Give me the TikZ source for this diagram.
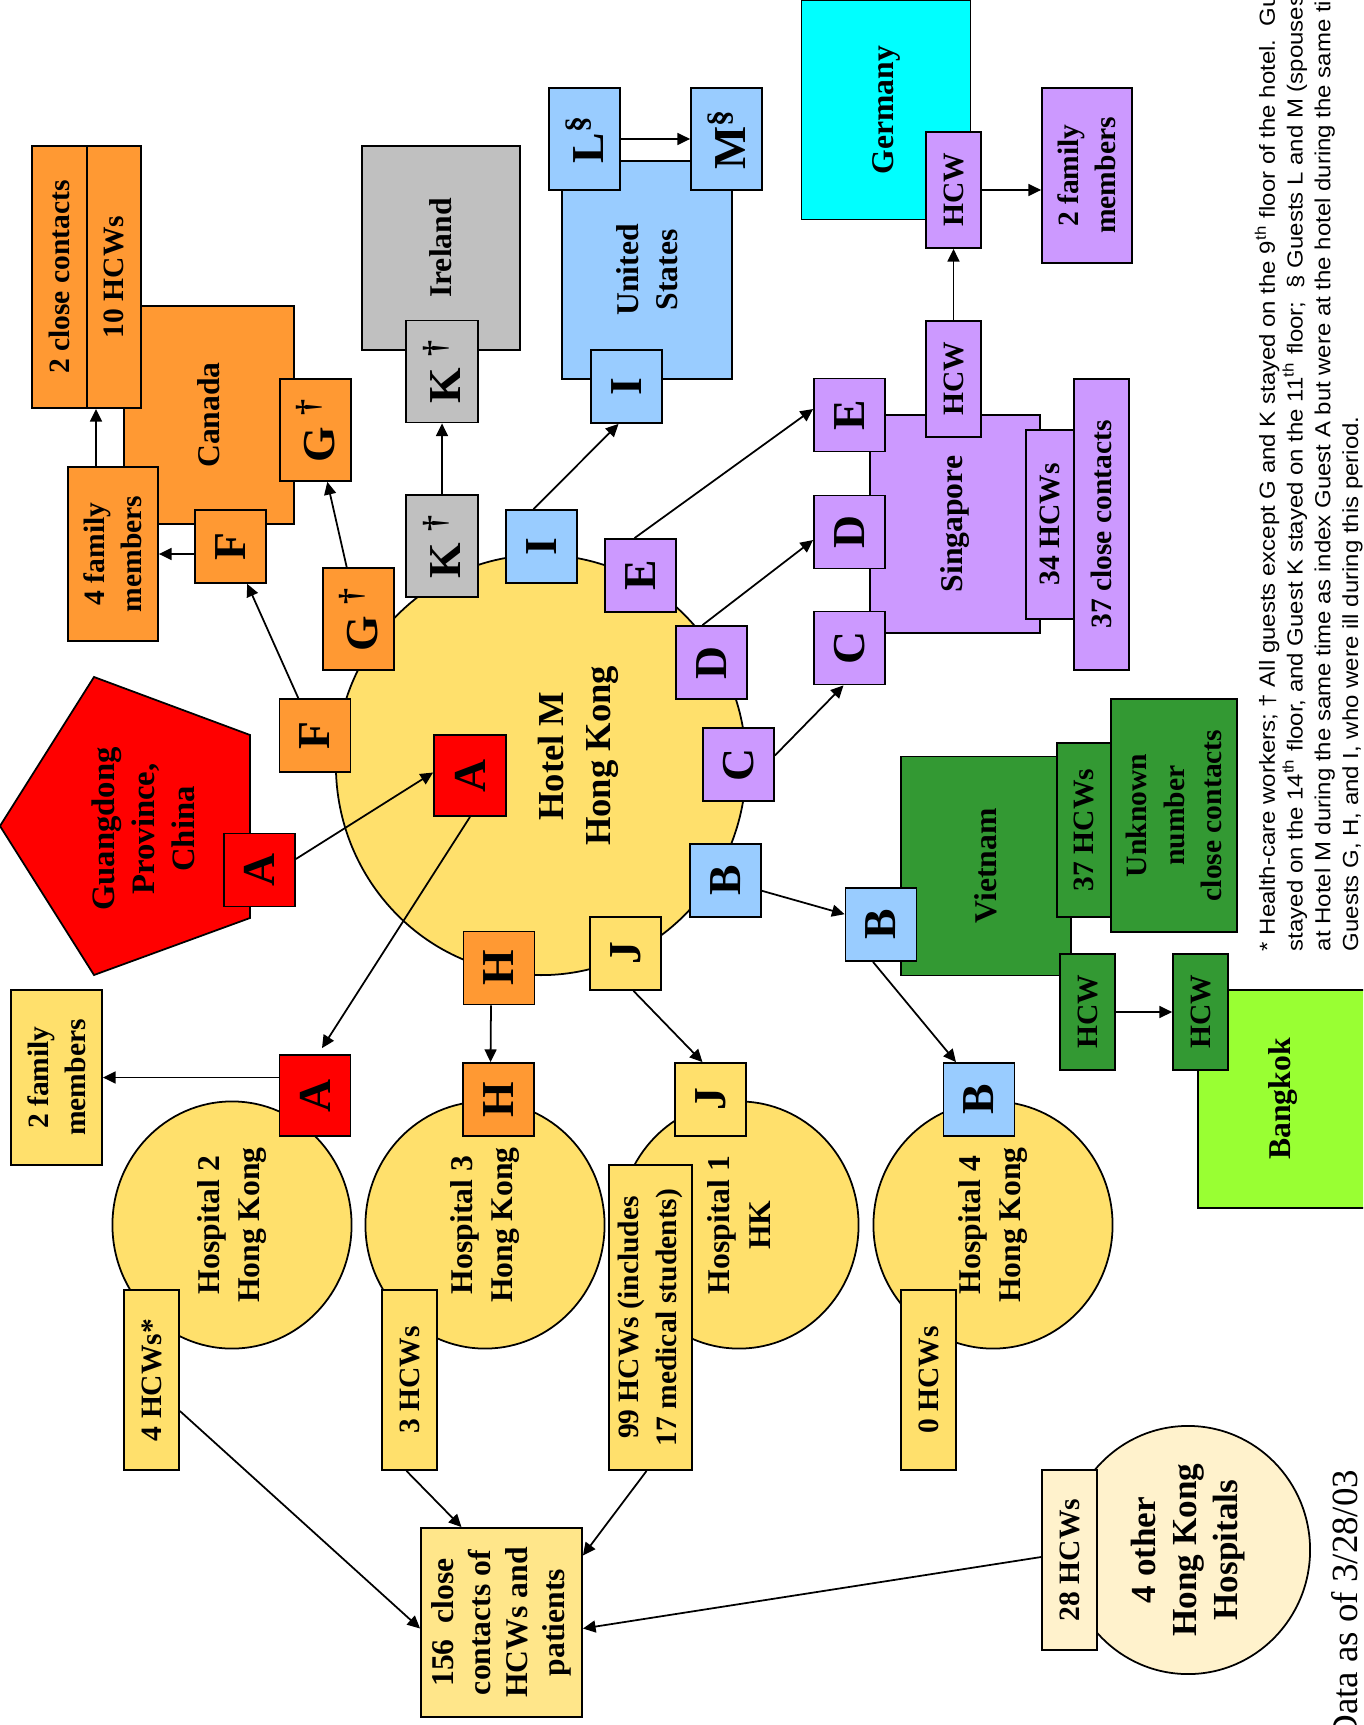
\documentclass[tikz,border=0pt]{standalone}
\usepackage{fontspec}
\setmainfont{Liberation Serif}
\newfontfamily\notefont[FakeStretch=1.1]{Liberation Sans}
\usetikzlibrary{shapes.geometric,arrows.meta,calc}
\definecolor{hkyel}{RGB}{255,224,108}
\definecolor{paleyel}{RGB}{255,242,204}
\definecolor{ccyel}{RGB}{255,230,138}
\definecolor{orng}{RGB}{255,153,51}
\definecolor{lblue}{RGB}{153,204,255}
\definecolor{lilac}{RGB}{204,153,255}
\definecolor{grey}{RGB}{192,192,192}
\definecolor{aqua}{RGB}{0,255,255}
\definecolor{vgreen}{RGB}{51,153,51}
\definecolor{lime}{RGB}{153,255,51}
\begin{document}
\begin{tikzpicture}[x=0.01cm,y=-0.01cm,line width=0.5pt,
  base/.style={rotate=90,inner sep=0pt,align=center},
  box/.style={base,draw},
  letter/.style={box,minimum width=0.73cm,minimum height=0.71cm,font=\fontsize{13}{15}\selectfont\bfseries},
  guest/.style={letter,minimum width=1.02cm},
  cnt/.style={box,font=\fontsize{8.4}{10.6}\selectfont\bfseries},
  hcw/.style={cnt,minimum width=1.16cm,minimum height=0.55cm},
  tally/.style={cnt,minimum width=1.80cm,minimum height=0.55cm},
  land/.style={box,minimum width=2.18cm,minimum height=1.70cm,font=\fontsize{9}{11}\selectfont\bfseries},
  lbl/.style={base,font=\fontsize{9.3}{11.4}\selectfont\bfseries},
  hosp/.style={base,draw,ellipse,fill=hkyel,minimum width=2.47cm,minimum height=2.39cm,font=\fontsize{9}{11.4}\selectfont\bfseries},
  arr/.style={-{Triangle[length=3.6pt,width=3.4pt]}}]
  \fill[white] (0,0) rectangle (1363,1725);
  \useasboundingbox (0,0) rectangle (1363,1725);
  \clip (0,0) rectangle (1363,1725);

  \node[land,fill=orng] (canada) at (209,415) {Canada};
  \node[land,fill=grey,minimum width=2.04cm,minimum height=1.58cm] (ireland) at (441,248) {Ireland};
  \node[land,fill=lblue] (usa) at (647,270) {United\\States};
  \node[land,fill=aqua,minimum width=2.19cm,minimum height=1.69cm] (germany) at (886,110) {Germany};
  \node[land,fill=lilac] (singapore) at (955,524) {Singapore};
  \node[land,fill=vgreen,minimum width=2.19cm] (vietnam) at (986,866) {Vietnam};
  \node[land,fill=lime] (bangkok) at (1283,1099) {Bangkok};
  \draw[fill=red] (0,826) -- (94,677) -- (250,735) -- (250,918) -- (94,975) -- cycle;
  \node[lbl] (guangdong) at (143,829) {Guangdong\\Province,\\China};
  \node[draw,ellipse,fill=hkyel,minimum width=4.10cm,minimum height=4.20cm] (hotel) at (541,765) {};
  \node[lbl,font=\fontsize{10.4}{13.4}\selectfont\bfseries] (hotelname) at (578,756) {Hotel M\\Hong Kong};
  \node[hosp] (hosp2) at (232,1225) {Hospital 2\\Hong Kong};
  \node[hosp] (hosp3) at (485,1225) {Hospital 3\\Hong Kong};
  \node[hosp] (hosp1) at (739,1225) {Hospital 1\\HK};
  \node[hosp] (hosp4) at (993,1225) {Hospital 4\\Hong Kong};
  \node[hosp,fill=paleyel,minimum width=2.48cm,minimum height=2.44cm,font=\fontsize{10}{11.6}\selectfont\bfseries] (hosp5) at (1188,1550) {4 other\\Hong Kong\\Hospitals};

  \node[cnt,fill=orng,minimum width=2.62cm,minimum height=0.55cm] (close2) at (59.5,277) {2 close contacts};
  \node[cnt,fill=orng,minimum width=2.62cm,minimum height=0.54cm] (hcw10) at (114,277) {10 HCWs};
  \node[cnt,fill=orng,minimum width=1.74cm,minimum height=0.90cm] (fam4) at (113,554) {4 family\\members};
  \node[guest,fill=orng] (Gcan) at (315.5,430) {G~\textsuperscript{†}};
  \node[letter,fill=orng] (Fcan) at (230.5,546.5) {F};
  \node[guest,fill=grey,minimum height=0.72cm] (Kire) at (442,371.5) {K~\textsuperscript{†}};
  \node[guest,fill=grey,minimum height=0.72cm] (Khot) at (442,546) {K~\textsuperscript{†}};
  \node[guest,fill=orng] (Ghot) at (358.5,619) {G~\textsuperscript{†}};
  \node[letter,fill=lblue] (Ihot) at (541.5,546.5) {I};
  \node[letter,fill=lblue] (Ius) at (626.5,386.5) {I};
  \node[guest,fill=lblue] (L) at (584.5,139) {L\textsuperscript{§}};
  \node[guest,fill=lblue] (M) at (726.5,139) {M\textsuperscript{§}};
  \node[hcw,fill=lilac] (hcwDE) at (953.5,190) {HCW};
  \node[cnt,fill=lilac,minimum width=1.75cm,minimum height=0.90cm] (fam2p) at (1087,175.5) {2 family\\members};
  \node[hcw,fill=lilac] (hcwSG) at (953.5,379) {HCW};
  \node[letter,fill=lilac] (Esg) at (849.5,415) {E};
  \node[letter,fill=lilac] (Dsg) at (849.5,532) {D};
  \node[letter,fill=lilac] (Csg) at (849.5,648) {C};
  \node[cnt,fill=lilac,minimum width=1.89cm,minimum height=0.48cm] (hcw34) at (1050,524.5) {34 HCWs};
  \node[cnt,fill=lilac,minimum width=2.91cm,minimum height=0.55cm] (cc37) at (1101.5,524.5) {37 close contacts};
  \node[letter,fill=lilac] (Ehot) at (640.5,575.5) {E};
  \node[letter,fill=lilac] (Dhot) at (711.5,662.5) {D};
  \node[letter,fill=lilac] (Chot) at (738.5,764.5) {C};
  \node[letter,fill=lblue] (Bhot) at (725.5,880.5) {B};
  \node[letter,fill=hkyel] (Jhot) at (625.5,953.5) {J};
  \node[letter,fill=orng] (Hhot) at (499,968) {H};
  \node[letter,fill=red,minimum width=0.81cm,minimum height=0.72cm] (Ahot) at (470,775.5) {A};
  \node[letter,fill=orng] (Fhot) at (315,735.5) {F};
  \node[letter,fill=red] (Agd) at (259.5,870) {A};
  \node[letter,fill=lblue] (Bvn) at (881,924.5) {B};
  \node[cnt,fill=vgreen,minimum width=1.74cm,minimum height=0.54cm] (hcw37) at (1084,830) {37 HCWs};
  \node[cnt,fill=vgreen,minimum width=2.33cm,minimum height=1.26cm] (unknown) at (1174,815.5) {Unknown\\number\\close contacts};
  \node[hcw,fill=vgreen] (hcwVN) at (1087.5,1012) {HCW};
  \node[hcw,fill=vgreen] (hcwTH) at (1200.5,1012) {HCW};
  \node[letter,fill=red,minimum width=0.81cm] (Ah2) at (315,1095.5) {A};
  \node[letter,fill=orng] (Hh3) at (498.5,1099.5) {H};
  \node[letter,fill=hkyel] (Jh1) at (710.5,1099.5) {J};
  \node[letter,fill=lblue] (Bh4) at (979,1099.5) {B};
  \node[cnt,fill=hkyel,minimum width=1.75cm,minimum height=0.91cm] (fam2y) at (56.5,1077.5) {2 family\\members};
  \node[tally,fill=hkyel] (hcw4) at (151.5,1380) {4 HCWs*};
  \node[tally,fill=hkyel] (hcw3) at (409.5,1380) {3 HCWs};
  \node[cnt,fill=hkyel,minimum width=3.05cm,minimum height=0.83cm] (hcw99) at (650.5,1317.5) {99 HCWs (includes\\17 medical students)};
  \node[tally,fill=hkyel] (hcw0) at (928.5,1380) {0 HCWs};
  \node[tally,fill=paleyel] (hcw28) at (1069.5,1560) {28 HCWs};
  \node[cnt,fill=ccyel,minimum width=1.89cm,minimum height=1.61cm,font=\fontsize{9}{10.5}\selectfont\bfseries] (cc156) at (501.5,1622.5) {156~~close\\contacts of\\HCWs and\\patients};

  \draw[arr] (fam4 -| Fcan.north) -- (fam4.south);
  \draw[arr] ($(fam4.east)+(-17,0)$) -- ($(hcw10.west)+(-18,0)$);
  \draw[arr] (Fhot) -- (Fcan);
  \draw[arr] (Ghot) -- (Gcan);
  \draw[arr] (Khot) -- (Kire);
  \draw[arr] ($(Ihot.east)+(-8,0)$) -- ($(Ius.west)+(-8,0)$);
  \draw[arr] (L) -- (M);
  \draw[arr] ($(Ehot.east)+(-6,0)$) -- ($(Esg.north)+(0,-6)$);
  \draw[arr] ($(Dhot.east)+(-9,0)$) -- ($(Dsg.north)+(0,8)$);
  \draw[arr] ($(Chot.south)+(0,-9)$) -- ($(Csg.west)+(-6,0)$);
  \draw[arr] (hcwSG) -- (hcwDE);
  \draw[arr] (hcwDE) -- (hcwDE -| fam2p.north);
  \draw[arr] (Bhot) -- (Bvn);
  \draw[arr] ($(Bvn.west)+(-8,0)$) -- ($(Bh4.east)+(-23,0)$);
  \draw[arr] (hcwVN) -- (hcwTH);
  \draw[arr] ($(Agd.south)+(0,-11)$) -- ($(Ahot.north)+(0,-3)$);
  \draw[arr] (Ahot.west) -- ($(Ah2.east)+(7,-6)$);
  \draw[arr] (fam2y -| Ah2.north) -- (fam2y.south);
  \draw[arr] ($(Hhot.west)+(-8,0)$) -- ($(Hh3.east)+(-8,0)$);
  \draw[arr] ($(Jhot.west)+(8,0)$) -- ($(Jh1.east)+(-8,0)$);
  \draw[arr] ($(hcw4.south)+(0,31)$) -- ($(cc156.north)+(0,6)$);
  \draw[arr] ($(hcw3.west)+(-3,0)$) -- ($(cc156.east)+(-40,0)$);
  \draw[arr] ($(hcw99.west)+(-4,0)$) -- ($(cc156.south)+(0,-67)$);
  \draw[arr] ($(hcw28.north)+(0,-3)$) -- ($(cc156.south)+(0,6)$);

  \node[base,anchor=north west,align=left,font=\notefont\fontsize{6.2}{7.9}\selectfont] (note) at (1254,952) {* Health-care workers; † All guests except G and K stayed on the 9\textsuperscript{th} floor of the hotel.\ \ Guest G\\stayed on the 14\textsuperscript{th} floor, and Guest K stayed on the 11\textsuperscript{th} floor;\ \ § Guests L and M (spouses) were not\\at Hotel M during the same time as index Guest A but were at the hotel during the same time as\\Guests G, H, and I, who were ill during this period.};
  \node[base,anchor=base east,font=\rmfamily\fontsize{10.5}{12}\selectfont] (date) at (1357,1469) {Data as of 3/28/03};
\end{tikzpicture}
\end{document}
